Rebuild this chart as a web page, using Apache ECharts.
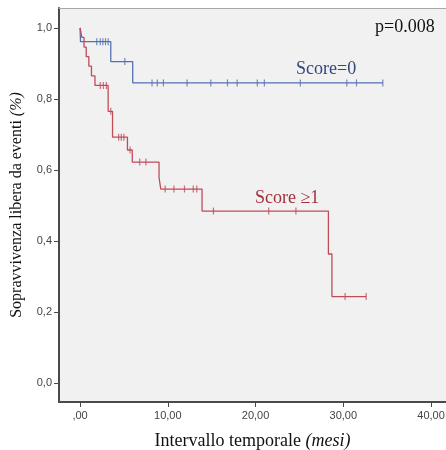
<!DOCTYPE html>
<html>
<head>
<meta charset="utf-8">
<script src="https://cdn.jsdelivr.net/npm/echarts@6/dist/echarts.min.js"></script>
<style>html,body{margin:0;padding:0;background:#fff}#c{width:446px;height:450px}</style>
</head>
<body>
<div id="c"></div>
<script>
// Kaplan-Meier data
var blueEventTimes = [0, 0.05, 3.5, 6.0, 34.5];
var blueSurvival   = [1.0, 0.961, 0.905, 0.845, 0.845];
var blueCensorTimes = [1.9, 2.3, 2.6, 2.9, 3.2, 5.1, 8.2, 8.8, 9.5, 12.2, 14.9, 16.8, 17.9, 20.2, 21.0, 25.1, 30.4, 31.5, 34.5];

var redEventTimes = [0, 0.2, 0.45, 0.7, 1.0, 1.3, 1.7, 3.2, 3.7, 5.4, 5.95, 9.0, 9.2, 13.9, 28.3, 28.7, 32.6];
var redSurvival   = [1.0, 0.973, 0.946, 0.919, 0.892, 0.865, 0.838, 0.765, 0.692, 0.656, 0.622, 0.578, 0.546, 0.484, 0.363, 0.243, 0.243];
var redCensorTimes = [2.3, 2.65, 3.0, 3.5, 4.4, 4.7, 5.0, 5.7, 6.8, 7.5, 9.7, 10.7, 11.9, 12.9, 13.3, 15.2, 21.5, 24.6, 30.2, 32.6];

var xTicks = [0, 10, 20, 30, 40];
var xTickLabels = [',00', '10,00', '20,00', '30,00', '40,00'];
var yTicks = [0, 0.2, 0.4, 0.6, 0.8, 1.0];
var yTickLabels = ['0,0', '0,2', '0,4', '0,6', '0,8', '1,0'];

var blueColor = '#5470b2';
var redColor = '#c24b58';

function pairs(ts, vs) { return ts.map(function (t, i) { return [t, vs[i]]; }); }
function survAt(ts, vs, t) {
  var v = vs[0];
  for (var i = 0; i < ts.length; i++) { if (ts[i] <= t) v = vs[i]; }
  return v;
}
function censorPts(ct, ts, vs) { return ct.map(function (t) { return [t, survAt(ts, vs, t)]; }); }

var chart = echarts.init(document.getElementById('c'), null, {renderer: 'canvas'});
var serif = '"Liberation Serif", "Times New Roman", serif';
var sans = '"Liberation Sans", Arial, sans-serif';

chart.setOption({
  animation: false,
  backgroundColor: '#ffffff',
  grid: {left: 59, top: 8, right: 0, bottom: 48, show: true, backgroundColor: '#f1f1f1', borderWidth: 0,
         containLabel: false, outerBoundsMode: 'none'},
  xAxis: [{
    type: 'value', min: -2.4, max: 41.7,
    splitLine: {show: false},
    axisLine: {show: true, onZero: false, lineStyle: {color: '#4a4a4a', width: 2}},
    axisTick: {show: true, length: 5, lineStyle: {color: '#4a4a4a', width: 1}, customValues: xTicks},
    axisLabel: {show: true, margin: 8, color: '#444', fontFamily: sans, fontSize: 11, customValues: xTicks,
      formatter: function (v) { var i = xTicks.indexOf(v); return i >= 0 ? xTickLabels[i] : ''; }},
    name: '{a|Intervallo temporale }{b|(mesi)}', nameLocation: 'middle', nameGap: 30,
    nameTextStyle: {rich: {
      a: {fontFamily: serif, fontSize: 18, color: '#111'},
      b: {fontFamily: serif, fontSize: 18, fontStyle: 'italic', color: '#111'}
    }}
  }, {
    type: 'value', position: 'top', min: -2.4, max: 41.7,
    splitLine: {show: false}, axisTick: {show: false}, axisLabel: {show: false},
    axisLine: {show: true, onZero: false, lineStyle: {color: '#a8a8a8', width: 1}}
  }],
  yAxis: {
    type: 'value', min: -0.054, max: 1.056,
    splitLine: {show: false},
    axisLine: {show: true, onZero: false, lineStyle: {color: '#4a4a4a', width: 2}},
    axisTick: {show: true, length: 5, lineStyle: {color: '#4a4a4a', width: 1}, customValues: yTicks},
    axisLabel: {show: true, margin: 7, color: '#444', fontFamily: sans, fontSize: 11, customValues: yTicks,
      formatter: function (v) {
        for (var i = 0; i < yTicks.length; i++) { if (Math.abs(yTicks[i] - v) < 1e-6) return yTickLabels[i]; }
        return '';
      }},
    name: '{a|Sopravvivenza libera da eventi }{b|(%)}', nameLocation: 'middle', nameGap: 34,
    nameTextStyle: {rich: {
      a: {fontFamily: serif, fontSize: 16, color: '#111'},
      b: {fontFamily: serif, fontSize: 16, fontStyle: 'italic', color: '#111'}
    }}
  },
  series: [{
    type: 'line', step: 'end', showSymbol: false, symbol: 'none', z: 2,
    data: pairs(blueEventTimes, blueSurvival),
    lineStyle: {color: blueColor, width: 1.3}
  }, {
    type: 'scatter', symbol: 'rect', symbolSize: [1.2, 7], z: 3,
    data: censorPts(blueCensorTimes, blueEventTimes, blueSurvival),
    itemStyle: {color: blueColor}
  }, {
    type: 'line', step: 'end', showSymbol: false, symbol: 'none', z: 4,
    data: pairs(redEventTimes, redSurvival),
    lineStyle: {color: redColor, width: 1.3}
  }, {
    type: 'scatter', symbol: 'rect', symbolSize: [1.2, 7], z: 5,
    data: censorPts(redCensorTimes, redEventTimes, redSurvival),
    itemStyle: {color: redColor}
  }],
  graphic: [
    {type: 'text', left: 375, top: 18, style: {text: 'p=0.008', font: '18px ' + serif, fill: '#111'}},
    {type: 'text', left: 296, top: 60, style: {text: 'Score=0', font: '18px ' + serif, fill: '#34457a'}},
    {type: 'text', left: 255, top: 189, style: {text: 'Score \u22651', font: '18px ' + serif, fill: '#a1303f'}}
  ]
});
</script>
</body>
</html>
